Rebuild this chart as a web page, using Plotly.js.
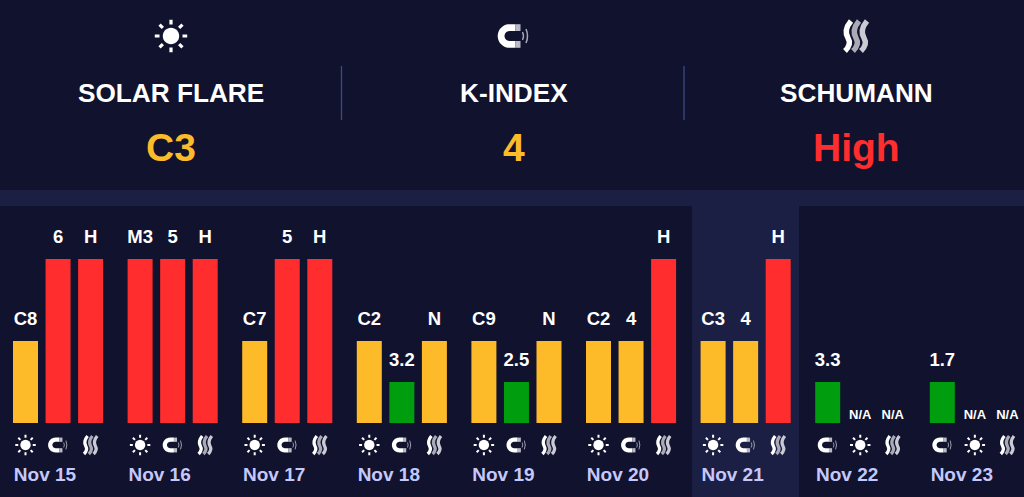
<!DOCTYPE html>
<html><head><meta charset="utf-8">
<script src="https://cdn.plot.ly/plotly-3.0.1.min.js"></script>
<style>html,body{margin:0;padding:0;background:#10122e;overflow:hidden}#c{width:1024px;height:497px}</style>
</head><body><div id="c"></div>
<script>
const days = ["Nov 15","Nov 16","Nov 17","Nov 18","Nov 19","Nov 20","Nov 21","Nov 22","Nov 23"];
const flareLabels = ["C8","M3","C7","C2","C9","C2","C3","N/A","N/A"];
const flareLevels = [2,4,2,2,2,2,2,0,0];
const flareSlots = [0,0,0,0,0,0,0,1,1];
const kLabels = ["6","5","5","3.2","2.5","4","4","3.3","1.7"];
const kLevels = [4,4,4,1,1,2,2,1,1];
const kSlots = [1,1,1,1,1,1,1,0,0];
const schumannLabels = ["H","H","H","N","N","H","H","N/A","N/A"];
const schumannLevels = [4,4,4,2,2,4,4,0,0];
const schumannSlots = [2,2,2,2,2,2,2,2,2];
const headerTitles = ["SOLAR FLARE","K-INDEX","SCHUMANN"];
const headerValues = ["C3","4","High"];
const headerColors = ["#fdbb2a","#fdbb2a","#ff2d2d"];
const headerIcons = ["sun","magnet","waves"];
const levelColors = {0:"#10122e",1:"#009e0f",2:"#fdbb2a",4:"#ff2d2d"};

const W=1024,H=497,BASE=423,UNIT=41,DAY=114.6,SLOT=32.55/114.6,BG="#10122e",BAND="#1c1f44",FF="Liberation Sans, Arial, sans-serif";
const px=p=>p/W, py=p=>(BASE-p)/BASE;
const xOf=(d,s)=>d+s*SLOT;
const xPaper=(d,s)=>(xOf(d,s)*DAY+25.5)/W;

function barTrace(name,labels,levels,slots){
  const x=days.map((_,i)=>xOf(i,slots[i]));
  return {type:"bar",name,x,y:levels,width:25/DAY,marker:{color:levels.map(l=>levelColors[l])},hoverinfo:"skip",showlegend:false};
}
function labelTrace(labels,levels,slots){
  return {type:"scatter",mode:"text",x:days.map((_,i)=>xOf(i,slots[i])),
    y:levels.map(l=>l>0?l+20.5/UNIT:7/UNIT),text:labels,textposition:"middle center",cliponaxis:false,
    textfont:{family:FF,color:"#ffffff",weight:"bold",size:labels.map(t=>t==="N/A"?13:18.5)},hoverinfo:"skip",showlegend:false};
}
const series=[[flareLabels,flareLevels,flareSlots,"Solar flare"],[kLabels,kLevels,kSlots,"K-index"],[schumannLabels,schumannLevels,schumannSlots,"Schumann"]];
const traces=[];
series.forEach(s=>{traces.push(barTrace(s[3],s[0],s[1],s[2]));traces.push(labelTrace(s[0],s[1],s[2]));});

function arc(cx,cy,r,a0,a1,n){const o=[];for(let i=0;i<=n;i++){const a=(a0+(a1-a0)*i/n)*Math.PI/180;o.push([cx+r*Math.cos(a),cy+r*Math.sin(a)]);}return o;}
function poly(pts,k){return pts.map((p,i)=>(i?"L":"M")+(p[0]*k).toFixed(2)+","+(p[1]*k).toFixed(2)).join(" ")+" Z";}
function icon(kind,xv,yv,k){
  const base={xref:"paper",yref:"paper",xsizemode:"pixel",ysizemode:"pixel",xanchor:xv,yanchor:yv,layer:"above"};
  const out=[];
  const fill=(path,c)=>out.push(Object.assign({},base,{type:"path",path,fillcolor:c,line:{width:0}}));
  const stroke=(path,c,w)=>out.push(Object.assign({},base,{type:"path",path,fillcolor:"rgba(0,0,0,0)",line:{color:c,width:w*k}}));
  if(kind==="sun"){
    fill(poly(arc(0,0,8.2,0,360,32),k),"#ffffff");
    let p="";
    for(let i=0;i<8;i++){const a=i*Math.PI/4;const c=Math.cos(a),s=Math.sin(a);
      p+=`M${(11.5*c*k).toFixed(2)},${(11.5*s*k).toFixed(2)} L${(16.2*c*k).toFixed(2)},${(16.2*s*k).toFixed(2)} `;}
    stroke(p.trim(),"#ffffff",3.2);
  } else if(kind==="magnet"){
    const cx=-4,R=11.8,r=5;
    const pts=[[2,-R]].concat(arc(cx,0,R,-90,-270,24)).concat([[2,R],[2,r]]).concat(arc(cx,0,r,90,270,14)).concat([[2,-r]]);
    fill(poly(pts,k),"#ffffff");
    fill(poly([[2,-R],[7,-R],[7,-r],[2,-r]],k),"#b9bac6");
    fill(poly([[2,r],[7,r],[7,R],[2,R]],k),"#b9bac6");
    stroke(`M${9*k},${-4*k} Q${11*k},0 ${9*k},${4*k}`,"#a6a7b6",1.4);
    stroke(`M${12.5*k},${-7*k} Q${15.5*k},0 ${12.5*k},${7*k}`,"#a6a7b6",1.5);
  } else {
    [[-8,"#ffffff"],[0,"#a9aab6"],[8,"#c9cad4"]].forEach(([x,c])=>{
      stroke(`M${(x-3)*k},${-15*k} C${(x+1)*k},${-11*k} ${(x+3)*k},${-7*k} ${x*k},${-2*k} C${(x-3)*k},${3*k} ${(x-2)*k},${9*k} ${(x+3)*k},${15*k}`,c,5.4);
    });
  }
  return out;
}
const shapes=[
  {type:"rect",xref:"paper",yref:"paper",x0:0,x1:1,y0:py(190),y1:py(206),fillcolor:BAND,line:{width:0},layer:"below"},
  {type:"rect",xref:"paper",yref:"paper",x0:px(692),x1:px(799),y0:py(206),y1:py(497),fillcolor:BAND,line:{width:0},layer:"below"},
  {type:"line",xref:"paper",yref:"paper",x0:px(341.5),x1:px(341.5),y0:py(66),y1:py(120),line:{color:"#3e4a86",width:1.3}},
  {type:"line",xref:"paper",yref:"paper",x0:px(684),x1:px(684),y0:py(66),y1:py(120),line:{color:"#3e4a86",width:1.3}}
];
const centers=[171,513.5,856];
headerIcons.forEach((n,i)=>shapes.push(...icon(n,px(centers[i]),py(36),1)));
days.forEach((_,i)=>{
  shapes.push(...icon("sun",xPaper(i,flareSlots[i]),py(445),0.63));
  shapes.push(...icon("magnet",xPaper(i,kSlots[i]),py(445),0.63));
  shapes.push(...icon("waves",xPaper(i,schumannSlots[i]),py(445),0.6));
});
const annotations=[];
headerTitles.forEach((t,i)=>{
  annotations.push({xref:"paper",yref:"paper",x:px(centers[i]),y:py(92.5),text:"<b>"+t+"</b>",showarrow:false,xanchor:"center",yanchor:"middle",font:{family:FF,size:26.2,color:"#ffffff"}});
  annotations.push({xref:"paper",yref:"paper",x:px(centers[i]),y:py(147.5),text:"<b>"+headerValues[i]+"</b>",showarrow:false,xanchor:"center",yanchor:"middle",font:{family:FF,size:39,color:headerColors[i]}});
});
const layout={width:W,height:H,margin:{l:0,r:0,t:0,b:H-BASE,pad:0},paper_bgcolor:BG,plot_bgcolor:"rgba(0,0,0,0)",
  barmode:"overlay",showlegend:false,shapes,annotations,
  xaxis:{range:[-25.5/DAY,(W-25.5)/DAY],tickmode:"array",tickvals:days.map((_,i)=>i+19.5/DAY),ticktext:days,
    showgrid:false,zeroline:false,showline:false,ticks:"",ticklabelstandoff:38,fixedrange:true,
    tickfont:{family:FF,size:19,color:"#c5c8fb",weight:"bold"}},
  yaxis:{range:[0,BASE/UNIT],visible:false,fixedrange:true}};
Plotly.newPlot("c",traces,layout,{displayModeBar:false,staticPlot:true});
</script></body></html>
